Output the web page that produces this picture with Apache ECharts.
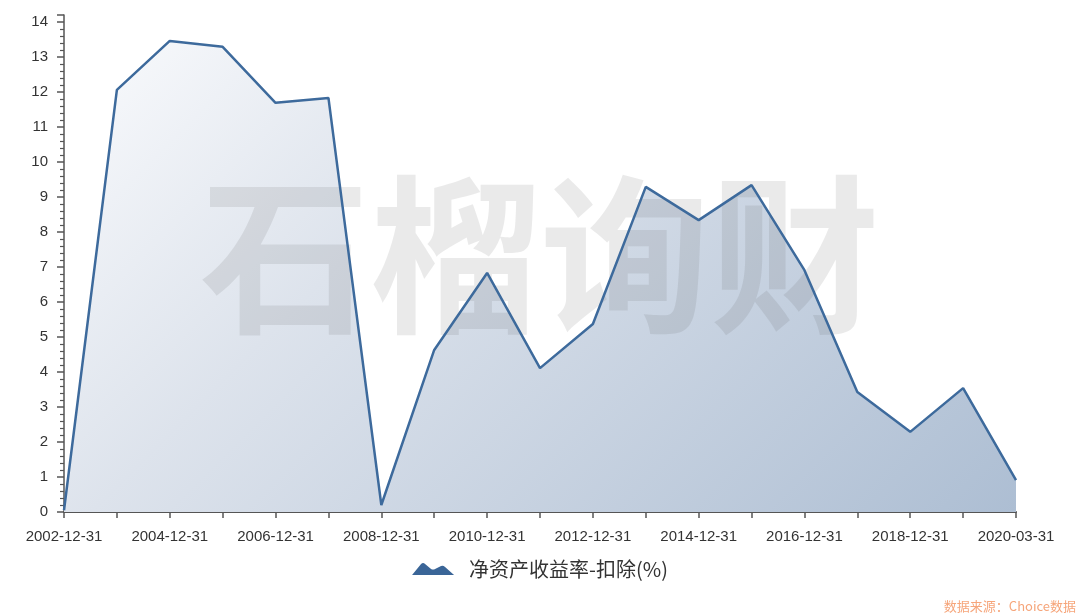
<!DOCTYPE html>
<html>
<head>
<meta charset="utf-8">
<script src="https://cdn.jsdelivr.net/npm/echarts@6/dist/echarts.min.js"></script>
<style>
html,body{margin:0;padding:0;background:#fff;}
#chart{width:1080px;height:616px;}
</style>
</head>
<body>
<div id="chart"></div>
<script>
var categories = ['2002-12-31','2003-12-31','2004-12-31','2005-12-31','2006-12-31','2007-12-31','2008-12-31','2009-12-31','2010-12-31','2011-12-31','2012-12-31','2013-12-31','2014-12-31','2015-12-31','2016-12-31','2017-12-31','2018-12-31','2019-12-31','2020-03-31'];
var roeValues = [0.05, 12.06, 13.46, 13.29, 11.69, 11.83, 0.2, 4.63, 6.83, 4.11, 5.37, 9.29, 8.34, 9.34, 6.91, 3.43, 2.29, 3.54, 0.91];
var seriesName = '净资产收益率-扣除(%)';
var watermarkText = '石榴询财';
var sourceText = '数据来源：Choice数据';

var chart = echarts.init(document.getElementById('chart'));
var axisFont = 'Liberation Sans, Arial, sans-serif';
var cjkFont = '"Noto Sans CJK SC", sans-serif';
chart.setOption({
  backgroundColor: '#ffffff',
  animation: false,
  grid: { left: 64, right: 64, top: 15, bottom: 104 },
  legend: {
    bottom: 32,
    left: 'center',
    itemWidth: 42,
    itemHeight: 14,
    itemGap: 20,
    icon: 'path://M0,14 L9,3 Q11,1 13,3 L19,8 Q21,9 23,8 L29,5 Q31,4 33,6 L42,14 Z',
    textStyle: { fontSize: 20, color: '#333', fontFamily: cjkFont, padding: [0,0,0,10] },
    data: [{ name: seriesName, itemStyle: { color: '#3a6597' } }]
  },
  xAxis: {
    type: 'category',
    data: categories,
    boundaryGap: false,
    axisLine: { lineStyle: { color: '#555', width: 2 } },
    axisTick: { show: true, interval: 0, length: 6, lineStyle: { color: '#555', width: 1.5 } },
    axisLabel: { interval: 1, margin: 17, fontSize: 15, color: '#333', fontFamily: axisFont }
  },
  yAxis: {
    type: 'value',
    min: 0,
    max: 14.2,
    interval: 1,
    splitLine: { show: false },
    axisLine: { show: true, lineStyle: { color: '#555', width: 1.5 } },
    axisTick: { show: true, length: 7, lineStyle: { color: '#555', width: 1.5 } },
    minorTick: { show: true, splitNumber: 5, length: 4, lineStyle: { color: '#555', width: 1.2 } },
    axisLabel: { margin: 16, fontSize: 15, color: '#333', fontFamily: axisFont, showMaxLabel: false,
      formatter: function (v) { return Math.abs(v - Math.round(v)) < 1e-6 ? String(Math.round(v)) : ''; } }
  },
  series: [
    {
      name: 'area',
      type: 'line',
      data: roeValues,
      symbol: 'none',
      silent: true,
      lineStyle: { width: 0 },
      areaStyle: {
        opacity: 1,
        color: new echarts.graphic.LinearGradient(64, 41, 775, 752, [
          { offset: 0, color: '#fafbfd' },
          { offset: 0.35, color: '#dde3ec' },
          { offset: 1, color: '#adbed3' }
        ], true)
      },
      z: 1
    },
    {
      name: seriesName,
      type: 'line',
      data: roeValues,
      symbol: 'none',
      lineStyle: { color: '#3d6a9c', width: 2.5 },
      itemStyle: { color: '#3a6597' },
      z: 10
    }
  ],
  graphic: [
    {
      type: 'text',
      left: 'center',
      top: 170,
      z: 5,
      silent: true,
      style: {
        text: watermarkText,
        font: 'bold 170px "Noto Sans CJK SC", sans-serif',
        fill: 'rgba(80,80,80,0.12)'
      }
    },
    {
      type: 'text',
      right: 4,
      bottom: 3,
      z: 100,
      style: {
        text: sourceText,
        font: '13px "Noto Sans CJK SC", sans-serif',
        fill: '#f6a57a'
      }
    }
  ]
});
</script>
</body>
</html>
